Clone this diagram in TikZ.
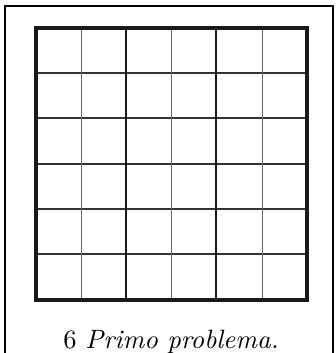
\documentclass[tikz,border=0pt]{standalone}
\usepackage{fontspec}
\setmainfont{lmroman10-regular.otf}[ItalicFont=lmroman10-italic.otf]
\usepackage{tikz}
\usetikzlibrary{positioning}
\tikzset{
    thinrow/.style={line width=1.3pt, draw=black!80},
    thincol/.style={line width=0.9pt, draw=black!60},
    blockline/.style={line width=2.6pt, draw=black!90},
    outerline/.style={line width=3.2pt, draw=black!90, line join=miter},
    frameline/.style={line width=1.5pt, draw=black}
}
\begin{document}
\begin{tikzpicture}[x=1pt, y=-1pt]
    \useasboundingbox (0,0) rectangle (335,353);
    \draw[frameline] (5,353) -- (5,6) -- (333,6) -- (333,353);
    \foreach \y in {73,118,164,209,254}
        \draw[thinrow] (36,\y) -- (307,\y);
    \foreach \x in {81,171,262}
        \draw[thincol] (\x,28) -- (\x,300);
    \foreach \x in {126,216}
        \draw[blockline] (\x,28) -- (\x,300);
    \draw[outerline] (36,28) rectangle (307,300);
    \node[font=\fontsize{26.5}{32}\selectfont, anchor=base, inner sep=0pt] (caption) at (171,348) {6 \textit{Primo problema.}};
\end{tikzpicture}
\end{document}
